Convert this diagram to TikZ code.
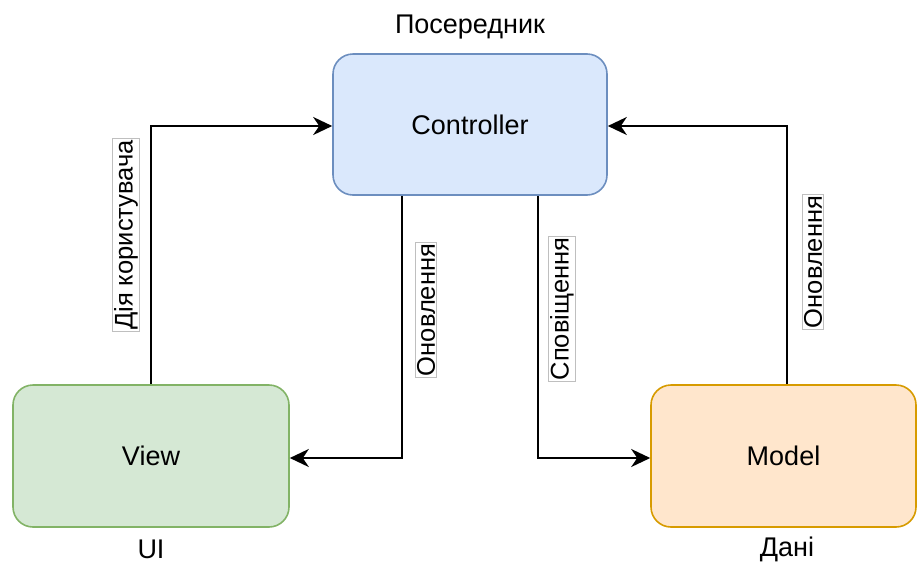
\documentclass[tikz,border=0pt]{standalone}
\usepackage{fontspec}
\setmainfont{Liberation Sans}
\usetikzlibrary{arrows.meta}
\definecolor{ctrlfill}{HTML}{DAE8FC}
\definecolor{ctrldraw}{HTML}{6C8EBF}
\definecolor{viewfill}{HTML}{D5E8D4}
\definecolor{viewdraw}{HTML}{82B366}
\definecolor{modfill}{HTML}{FFE6CC}
\definecolor{moddraw}{HTML}{D79B00}
\tikzset{
  blockbox/.style={rounded corners=20pt, line width=1.6pt, inner sep=0pt, font=\fontsize{27}{32}\selectfont},
  conn/.style={line width=2.2pt, -{Stealth[length=19pt, width=18pt, inset=6pt]}},
  edgelabel/.style={rotate=90, fill=white, draw=black!25, line width=0.8pt, inner sep=1.5pt, font=\fontsize{25.5}{30}\selectfont},
  plainlabel/.style={font=\fontsize{27}{32}\selectfont}
}
\begin{document}
\begin{tikzpicture}[x=1pt,y=-1pt]
\useasboundingbox (0,0) rectangle (917,563);
\node[blockbox, fill=ctrlfill, draw=ctrldraw, minimum width=274pt, minimum height=141pt] (ctrl) at (470,124.5) {Controller};
\node[blockbox, fill=viewfill, draw=viewdraw, minimum width=276pt, minimum height=142pt] (view) at (151,456) {View};
\node[blockbox, fill=modfill, draw=moddraw, minimum width=265pt, minimum height=142pt] (model) at (783.5,456) {Model};
\node[plainlabel] (ttl) at (470,27) {Посередник};
\node[plainlabel] (ui) at (151,549) {UI};
\node[plainlabel] (dani) at (787,549) {Дані};
\coordinate (c1) at (151,126);
\coordinate (c2) at (402,458);
\coordinate (c3) at (538,458);
\coordinate (c4) at (787,126);
\draw[conn] (view.north) -- (c1) -- (ctrl.west |- c1);
\draw[conn] (ctrl.south -| c2) -- (c2) -- (view.east |- c2);
\draw[conn] (ctrl.south -| c3) -- (c3) -- (model.west |- c3);
\draw[conn] (model.north -| c4) -- (c4) -- (ctrl.east |- c4);
\node[edgelabel] (l1) at (126,235) {Дія користувача};
\node[edgelabel] (l2) at (426,310) {Оновлення};
\node[edgelabel] (l3) at (562,309) {Сповіщення};
\node[edgelabel] (l4) at (813,262) {Оновлення};
\end{tikzpicture}
\end{document}
